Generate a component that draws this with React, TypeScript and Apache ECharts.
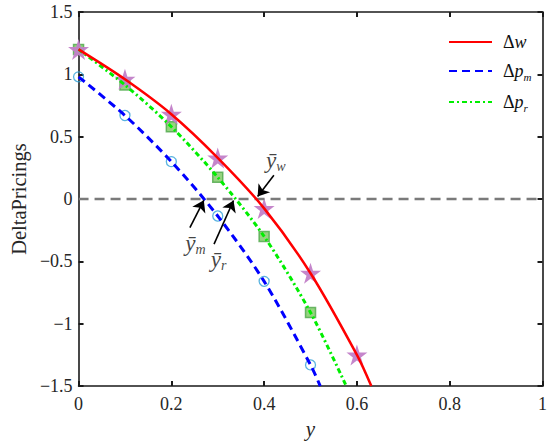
import React, { useEffect, useRef } from "react";
import * as echarts from "echarts";

const F = "'Times New Roman', 'Liberation Serif', Tinos, serif";

// y values where markers sit
const markerY = [0, 0.1, 0.2, 0.3, 0.4, 0.5, 0.6];
// Delta w (red, stars)
const dW = [1.2, 0.96, 0.68, 0.33, -0.075, -0.595, -1.25];
const dWEnd = [0.631, -1.5];
// Delta p_m (blue, circles)
const dPm = [0.98, 0.67, 0.3, -0.136, -0.66, -1.33];
const dPmEnd = [0.521, -1.5];
// Delta p_r (green, squares)
const dPr = [1.2, 0.915, 0.58, 0.174, -0.3, -0.91];
const dPrEnd = [0.577, -1.5];

// axis ticks
const xTicks = [0, 0.2, 0.4, 0.6, 0.8, 1];
const yTicks = [-1.5, -1, -0.5, 0, 0.5, 1, 1.5];

// annotation labels: [x, y, subscript]
const annotLabels: [number, number, string][] = [
  [0.425, 0.31, "w"],
  [0.252, -0.356, "m"],
  [0.302, -0.483, "r"],
];
// arrows: [fromX, fromY, toX, toY]
const arrows = [
  [0.421, 0.19, 0.386, 0.02],
  [0.24, -0.229, 0.27, -0.01],
  [0.292, -0.362, 0.334, -0.012],
];

function pairs(vals: number[], end: number[]) {
  const pts = vals.map((v, i) => [markerY[i], v]);
  return [...pts, end];
}

export default function App() {
  const ref = useRef<HTMLDivElement>(null);
  useEffect(() => {
    if (!ref.current) return;
    const chart = echarts.init(ref.current, null, { renderer: "svg" });
    const axisLine = { show: true, onZero: false, lineStyle: { color: "#1a1a1a", width: 1.6 } };
    const tick = { show: true, inside: true, length: 5, lineStyle: { color: "#1a1a1a", width: 2 } };
    const minus = (v: number) => (v < 0 ? "\u2212" + String(Math.abs(v)) : String(v));
    const legendRich = {
      d: { fontFamily: F, fontSize: 18, color: "#111", lineHeight: 22, padding: [0, 0, 0, 6] },
      v: { fontFamily: F, fontSize: 18, fontStyle: "italic", color: "#111", lineHeight: 22 },
      s: { fontFamily: F, fontSize: 11, fontStyle: "italic", color: "#111", lineHeight: 12, verticalAlign: "bottom" },
    };
    const annRich = {
      v: { fontFamily: F, fontSize: 23, fontStyle: "italic", color: "#111", lineHeight: 26 },
      s: { fontFamily: F, fontSize: 14, fontStyle: "italic", color: "#111", lineHeight: 14, verticalAlign: "bottom" },
    };
    chart.setOption({
      animation: false,
      backgroundColor: "#fff",
      textStyle: { fontFamily: F },
      grid: { left: 63, right: 7, top: 12, bottom: 54 },
      legend: {
        data: ["Δw", "Δpm", "Δpr"],
        orient: "vertical",
        left: 443,
        top: 28,
        itemWidth: 43,
        itemHeight: 14,
        itemGap: 11,
        itemStyle: { color: "rgba(0,0,0,0)", borderColor: "rgba(0,0,0,0)", borderWidth: 0 },
        textStyle: { fontFamily: F, rich: legendRich },
        formatter: (name: string) => {
          if (name === "Δw") return "{d|Δ}{v|w}";
          if (name === "Δpm") return "{d|Δ}{v|p}{s|m}";
          return "{d|Δ}{v|p}{s|r}";
        },
      },
      xAxis: [
        {
          type: "value",
          min: xTicks[0],
          max: xTicks[xTicks.length - 1],
          interval: 0.2,
          position: "bottom",
          axisLine,
          axisTick: tick,
          splitLine: { show: false },
          axisLabel: { fontFamily: F, fontSize: 18, color: "#262626", margin: 9, formatter: minus },
          name: "y",
          nameLocation: "middle",
          nameGap: 29,
          nameTextStyle: { fontFamily: F, fontSize: 21, fontStyle: "italic", color: "#262626" },
        },
        {
          type: "value",
          min: xTicks[0],
          max: xTicks[xTicks.length - 1],
          interval: 0.2,
          position: "top",
          axisLine,
          axisTick: tick,
          splitLine: { show: false },
          axisLabel: { show: false },
        },
      ],
      yAxis: [
        {
          type: "value",
          min: yTicks[0],
          max: yTicks[yTicks.length - 1],
          interval: 0.5,
          position: "left",
          axisLine,
          axisTick: tick,
          splitLine: { show: false },
          axisLabel: { fontFamily: F, fontSize: 18, color: "#262626", margin: 6, formatter: minus },
          name: "DeltaPricings",
          nameLocation: "middle",
          nameGap: 42,
          nameTextStyle: { fontFamily: F, fontSize: 20.5, color: "#262626" },
        },
        {
          type: "value",
          min: yTicks[0],
          max: yTicks[yTicks.length - 1],
          interval: 0.5,
          position: "right",
          axisLine,
          axisTick: tick,
          splitLine: { show: false },
          axisLabel: { show: false },
        },
      ],
      series: [
        {
          name: "zero",
          type: "line",
          data: [
            [xTicks[0], 0],
            [xTicks[xTicks.length - 1], 0],
          ],
          symbol: "none",
          lineStyle: { color: "#7a7a7a", width: 2.4, type: [10, 6] },
          silent: true,
        },
        {
          name: "Δpm",
          type: "line",
          data: pairs(dPm, dPmEnd),
          symbol: "none",
          smooth: 0.3,
          lineStyle: { color: "#0000ff", width: 3, type: [8, 5] },
          itemStyle: { color: "#0000ff" },
        },
        {
          name: "Δpr",
          type: "line",
          data: pairs(dPr, dPrEnd),
          symbol: "none",
          smooth: 0.3,
          lineStyle: { color: "#00ee00", width: 3, type: [5, 3, 2, 3] },
          itemStyle: { color: "#00ee00" },
        },
        {
          name: "Δw",
          type: "line",
          data: pairs(dW, dWEnd),
          symbol: "none",
          smooth: 0.3,
          lineStyle: { color: "#ff0000", width: 2.5 },
          itemStyle: { color: "#ff0000" },
        },
        {
          name: "mk_pm",
          type: "scatter",
          data: dPm.map((v, i) => [markerY[i], v]),
          symbol: "circle",
          symbolSize: 10,
          itemStyle: { color: "rgba(255,255,255,0)", borderColor: "#2fa0d8", borderWidth: 1.3 },
        },
        {
          name: "mk_pr",
          type: "scatter",
          data: dPr.map((v, i) => [markerY[i], v]),
          symbol: "rect",
          symbolSize: 10,
          itemStyle: { color: "#7cc860", borderColor: "#4da84a", borderWidth: 1.5 },
        },
        {
          name: "mk_w",
          type: "scatter",
          data: dW.map((v, i) => [markerY[i], v]),
          symbol:
            "path://M50,0 L61.8,36.2 L100,36.2 L69.1,58.8 L80.9,95.1 L50,72.7 L19.1,95.1 L30.9,58.8 L0,36.2 L38.2,36.2 Z",
          symbolSize: 21,
          itemStyle: { color: "#c27fc8", opacity: 0.95 },
        },
        {
          name: "annot",
          type: "scatter",
          data: annotLabels.map((a) => [a[0], a[1], a[2]]),
          symbolSize: 0,
          silent: true,
          label: {
            show: true,
            position: "inside",
            formatter: (p: any) => "{v|ȳ}{s|" + p.value[2] + "}",
            rich: annRich,
          },
          markLine: {
            silent: true,
            symbol: ["none", "arrow"],
            symbolSize: 11,
            label: { show: false },
            lineStyle: { color: "#000", width: 1.6, type: "solid" },
            data: arrows.map((a) => [{ coord: [a[0], a[1]] }, { coord: [a[2], a[3]] }]),
          },
        },
      ],
    });
    return () => chart.dispose();
  }, []);
  return (
    <div
      ref={ref}
      style={{ position: "fixed", left: 0, top: 0, width: 550, height: 444, background: "#fff" }}
    />
  );
}
